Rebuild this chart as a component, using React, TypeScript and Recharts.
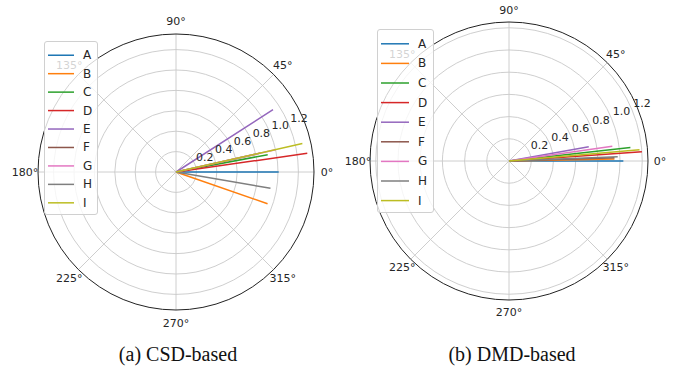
import React from 'react';
import { RadarChart, Radar, PolarGrid, PolarAngleAxis, PolarRadiusAxis, Legend } from 'recharts';

const SERIES = ['A', 'B', 'C', 'D', 'E', 'F', 'G', 'H', 'I'];
const COLORS = ['#1f77b4', '#ff7f0e', '#2ca02c', '#d62728', '#9467bd', '#8c564b', '#e377c2', '#7f7f7f', '#bcbd22'];
const ANGLE_TICKS = [0, 45, 90, 135, 180, 225, 270, 315];
const RADIUS_TICKS = [0.2, 0.4, 0.6, 0.8, 1.0, 1.2];

// (a) CSD-based: angle in degrees, magnitude
const CSD_ANGLES = [0, 340.9, 10.7, 8.1, 32.7, 12.6, 12.6, 350.2, 12.7];
const CSD_RADII = [1.007, 0.95, 0.915, 1.3, 1.13, 0.85, 1.0, 0.94, 1.27];

// (b) DMD-based
const DMD_ANGLES = [0, 1.1, 6.3, 4.0, 10.2, 1.8, 8.1, 2.3, 4.9];
const DMD_RADII = [1.03, 0.95, 1.1, 1.2, 0.73, 0.95, 0.94, 0.98, 1.18];

const CAPTIONS = ['(a) CSD-based', '(b) DMD-based'];

function buildRows(angles: number[], radii: number[]) {
  const origin: any = { angle: 0 };
  SERIES.forEach((s) => (origin[s] = 0));
  const rows: any[] = [origin];
  SERIES.forEach((s, i) => {
    rows.push({ angle: angles[i], [s]: radii[i] });
  });
  return rows;
}

const FONT = 'DejaVu Sans, sans-serif';

function makeAngleTick(cx: number, cy: number, R: number) {
  return (props: any) => {
    const v = props.payload.value;
    const a = (v * Math.PI) / 180;
    const x = cx + R * Math.cos(a);
    const y = cy - R * Math.sin(a);
    return (
      <text x={x} y={y} textAnchor="middle" dominantBaseline="central" fontSize={11} fontFamily={FONT} fill="#262626">
        {`${v}°`}
      </text>
    );
  };
}

function RadiusTick(props: any) {
  const { x, y, payload } = props;
  return (
    <text x={x + 10} y={y - 7} textAnchor="middle" dominantBaseline="central" fontSize={11} fontFamily={FONT} fill="#262626">
      {Number(payload.value).toFixed(1)}
    </text>
  );
}

function makeLegend(spacing: number, lineLen: number, w: number, textX: number) {
  return (props: any) => {
    const payload = props.payload || [];
    const h = spacing * payload.length + 8;
    return (
      <div
        style={{
          background: 'rgba(255,255,255,0.8)',
          border: '1px solid #d0d0d0',
          borderRadius: 3,
          width: w,
          height: h,
          boxSizing: 'border-box',
        }}
      >
        <svg width={w - 2} height={h - 2} style={{ display: 'block' }}>
          {payload.map((p: any, i: number) => {
            const y = 4 + spacing * (i + 0.5);
            return (
              <g key={p.value}>
                <line x1={3} x2={3 + lineLen} y1={y} y2={y} stroke={p.color} strokeWidth={1.5} />
                <text x={textX} y={y} dominantBaseline="central" fontSize={12} fontFamily={FONT} fill="#262626">
                  {p.value}
                </text>
              </g>
            );
          })}
        </svg>
      </div>
    );
  };
}

function PolarPanel(props: {
  angles: number[];
  radii: number[];
  cx: number;
  cy: number;
  outer: number;
  rmax: number;
  labelGap: number;
  legendPos: { left: number; top: number };
  spacing: number;
  lineLen: number;
  legendW: number;
  textX: number;
}) {
  const { angles, radii, cx, cy, outer, rmax, labelGap, legendPos, spacing, lineLen, legendW, textX } = props;
  const data = buildRows(angles, radii);
  return (
    <RadarChart
      width={340}
      height={335}
      data={data}
      cx={cx}
      cy={cy}
      outerRadius={outer}
      innerRadius={0}
      startAngle={0}
      endAngle={360}
      margin={{ top: 0, right: 0, bottom: 0, left: 0 }}
    >
      <PolarGrid gridType="circle" stroke="#c8c8c8" strokeWidth={0.9} />
      <PolarAngleAxis
        dataKey="angle"
        type="number"
        domain={[0, 360]}
        ticks={ANGLE_TICKS}
        tickLine={false}
        axisLine={{ stroke: '#222', strokeWidth: 1 }}
        axisLineType="circle"
        tick={makeAngleTick(cx, cy, outer + labelGap)}
        allowDataOverflow
      />
      <PolarRadiusAxis
        angle={22.5}
        type="number"
        domain={[0, rmax]}
        ticks={RADIUS_TICKS}
        allowDataOverflow
        axisLine={false}
        tick={RadiusTick}
      />
      {SERIES.map((s, i) => (
        <Radar
          key={s}
          name={s}
          dataKey={s}
          stroke={COLORS[i]}
          strokeWidth={1.5}
          fill="none"
          fillOpacity={0}
          dot={false}
          connectNulls
          isAnimationActive={false}
          legendType="line"
        />
      ))}
      <Legend
        layout="vertical"
        align="left"
        verticalAlign="top"
        wrapperStyle={{ position: 'absolute', left: legendPos.left, top: legendPos.top, width: legendW }}
        content={makeLegend(spacing, lineLen, legendW, textX)}
      />
    </RadarChart>
  );
}

export default function App() {
  return (
    <div style={{ position: 'absolute', left: 0, top: 0, width: 681, height: 373, background: '#fff' }}>
      <div style={{ position: 'absolute', left: 0, top: 0 }}>
        <PolarPanel
          angles={CSD_ANGLES}
          radii={CSD_RADII}
          cx={176}
          cy={172}
          outer={138}
          rmax={1.353}
          labelGap={13}
          legendPos={{ left: 44, top: 41 }}
          spacing={18.45}
          lineLen={26}
          legendW={54}
          textX={38}
        />
      </div>
      <div style={{ position: 'absolute', left: 340, top: 0 }}>
        <PolarPanel
          angles={DMD_ANGLES}
          radii={DMD_RADII}
          cx={169}
          cy={161}
          outer={139}
          rmax={1.252}
          labelGap={12}
          legendPos={{ left: 37, top: 29 }}
          spacing={19.6}
          lineLen={28}
          legendW={57}
          textX={40}
        />
      </div>
      {CAPTIONS.map((c, i) => (
        <div
          key={c}
          style={{
            position: 'absolute',
            left: i === 0 ? 178 - 100 : 512 - 100,
            width: 200,
            top: 342,
            textAlign: 'center',
            fontFamily: '"Liberation Serif", "Times New Roman", serif',
            fontSize: 20,
            lineHeight: '24px',
            color: '#111',
          }}
        >
          {c}
        </div>
      ))}
    </div>
  );
}
